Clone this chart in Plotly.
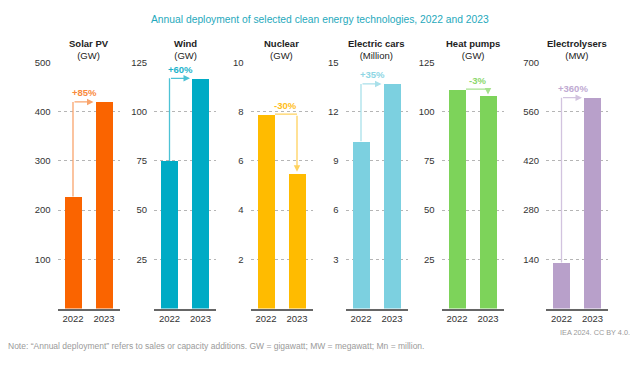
import plotly.graph_objects as go

# ---- data ----
techs = ["Solar PV", "Wind", "Nuclear", "Electric cars", "Heat pumps", "Electrolysers"]
units = ["GW", "GW", "GW", "Million", "GW", "MW"]
years = ["2022", "2023"]
values_2022 = [228, 75, 7.9, 10.2, 111.5, 131]
values_2023 = [420, 117, 5.5, 13.7, 108, 600]
changes = ["+85%", "+60%", "-30%", "+35%", "-3%", "+360%"]
y_max = [500, 125, 10, 15, 125, 700]
y_ticks = [
    [100, 200, 300, 400, 500],
    [25, 50, 75, 100, 125],
    [2, 4, 6, 8, 10],
    [3, 6, 9, 12, 15],
    [25, 50, 75, 100, 125],
    [140, 280, 420, 560, 700],
]

# ---- styles ----
bar_colors = ["#FA6400", "#00ABC5", "#FFBB00", "#7CD0E0", "#7DD35A", "#B8A0CA"]
arrow_colors = ["#F9A46C", "#4DC2D5", "#FFD25E", "#A9E0EA", "#A6E28E", "#D2C3DF"]
label_colors = ["#F98A3C", "#1DB3CB", "#FFBE1A", "#8ED6E4", "#8BD86C", "#C0AAD2"]

W, H = 640, 372
FONT = "Liberation Sans, Arial, sans-serif"
left_px = [57.5, 154, 250.5, 345.5, 441.5, 546]
panel_w = 62
y_bottom_px, y_top_px = 307.5, 57.5
bar_w = 0.58
half = bar_w / 2

fig = go.Figure()
annotations = []
shapes = []

for i, t in enumerate(techs):
    n = "" if i == 0 else str(i + 1)
    xa, ya = "x" + n, "y" + n
    fig.add_trace(go.Bar(
        x=[0, 1], y=[values_2022[i], values_2023[i]],
        marker=dict(color=bar_colors[i], line=dict(width=0)),
        width=bar_w, xaxis=xa, yaxis=ya, showlegend=False, hoverinfo="skip",
    ))
    dom_x = [left_px[i] / W, (left_px[i] + panel_w) / W]
    dom_y = [1 - y_bottom_px / H, 1 - y_top_px / H]
    fig.layout["xaxis" + n] = dict(
        domain=dom_x, anchor=ya, range=[-0.5, 1.5],
        tickvals=[0, 1], ticktext=years, showgrid=False, zeroline=False,
        showline=True, linecolor="#666666", linewidth=2,
        tickfont=dict(family=FONT, size=9.5, color="#333333"), ticks="",
        fixedrange=True,
    )
    fig.layout["yaxis" + n] = dict(
        domain=dom_y, anchor=xa, range=[0, y_max[i]],
        tickvals=y_ticks[i], showgrid=True, gridcolor="#B5B5B5",
        griddash="dot", gridwidth=1, zeroline=False, showline=False,
        tickfont=dict(family=FONT, size=9.5, color="#333333"), ticks="",
        ticklabelstandoff=6, fixedrange=True,
    )

    v0, v1 = values_2022[i], values_2023[i]
    xr, yr = "x" + n, "y" + n
    if v1 >= v0:
        shapes.append(dict(type="line", xref=xr, yref=yr, x0=0, x1=0, y0=v0, y1=v1,
                           line=dict(color=arrow_colors[i], width=1.3)))
        annotations.append(dict(xref=xr, yref=yr, axref=xr, ayref=yr,
                                x=1 - half, y=v1, ax=0, ay=v1, text="",
                                showarrow=True, arrowhead=2, arrowsize=1,
                                arrowwidth=1.3, arrowcolor=arrow_colors[i], standoff=1.5))
        lx, ly = (1 - half) / 2, v1
    else:
        shapes.append(dict(type="line", xref=xr, yref=yr, x0=half, x1=1, y0=v0, y1=v0,
                           line=dict(color=arrow_colors[i], width=1.3)))
        annotations.append(dict(xref=xr, yref=yr, axref=xr, ayref=yr,
                                x=1, y=v1, ax=1, ay=v0, text="",
                                showarrow=True, arrowhead=2, arrowsize=1,
                                arrowwidth=1.3, arrowcolor=arrow_colors[i], standoff=1.5))
        lx, ly = (half + 1) / 2, v0
    annotations.append(dict(xref=xr, yref=yr, x=lx, y=ly, yshift=9, showarrow=False,
                            text="<b>" + changes[i] + "</b>",
                            font=dict(family=FONT, size=9.5, color=label_colors[i]),
                            xanchor="center", yanchor="middle"))
    annotations.append(dict(xref="paper", yref="paper",
                            x=(left_px[i] + panel_w / 2) / W, y=1 - 44 / H,
                            text="<b>" + t + "</b><br>(" + units[i] + ")",
                            showarrow=False, xanchor="center", yanchor="middle",
                            font=dict(family=FONT, size=9.5, color="#222222")))

annotations.append(dict(xref="paper", yref="paper", x=0.5, y=1 - 14 / H,
                        text="Annual deployment of selected clean energy technologies, 2022 and 2023",
                        showarrow=False, xanchor="center", yanchor="middle",
                        font=dict(family=FONT, size=10.3, color="#1FA9BC")))
annotations.append(dict(xref="paper", yref="paper", x=632 / W, y=1 - 331.5 / H,
                        text="IEA 2024. CC BY 4.0.", showarrow=False,
                        xanchor="right", yanchor="middle",
                        font=dict(family=FONT, size=7.3, color="#9A9A9A")))
annotations.append(dict(xref="paper", yref="paper", x=6 / W, y=1 - 345.5 / H,
                        text="Note: \u201cAnnual deployment\u201d refers to sales or capacity additions. GW = gigawatt; MW = megawatt; Mn = million.",
                        showarrow=False, xanchor="left", yanchor="middle",
                        font=dict(family=FONT, size=8.5, color="#9A9A9A")))

fig.update_layout(
    width=W, height=H, autosize=False,
    margin=dict(l=0, r=0, t=0, b=0),
    paper_bgcolor="white", plot_bgcolor="white",
    annotations=annotations, shapes=shapes, bargap=0,
)

fig.write_html("out.html", config={"displayModeBar": False},
               post_script="document.body.style.margin='0';document.body.style.overflow='hidden';")
